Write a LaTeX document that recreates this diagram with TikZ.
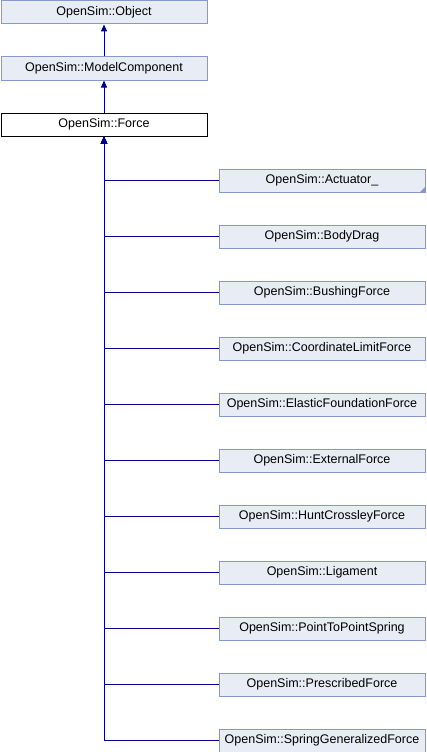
\documentclass[tikz,border=0pt]{standalone}
\usepackage{fontspec}
\setmainfont{Liberation Sans}
\usetikzlibrary{arrows.meta}
\definecolor{boxfill}{RGB}{232,236,245}
\definecolor{boxdraw}{RGB}{132,152,204}
\definecolor{edgecol}{RGB}{0,0,140}
\tikzset{
  cls/.style={draw=boxdraw, fill=boxfill, line width=1pt, minimum width=206pt, minimum height=23pt, inner sep=0pt, anchor=north west, font=\fontsize{12.5}{14}\selectfont},
  cur/.style={cls, draw=black, fill=white},
  inh/.style={draw=edgecol, line width=1pt, -{Triangle[length=7pt,width=6pt]}},
}
\begin{document}
\begin{tikzpicture}[x=1pt,y=-1pt]
\useasboundingbox (0,0) rectangle (426,752);
\node[cls] (obj) at (0.5,0.5) {OpenSim::Object};
\node[cls] (mc) at (0.5,56.5) {OpenSim::ModelComponent};
\node[cur] (force) at (0.5,112.5) {OpenSim::Force};
\draw[inh] (mc.north) -- (obj.south);
\draw[inh] (force.north) -- (mc.south);
\foreach \n/\t [count=\i from 0] in {act/OpenSim::Actuator\_, bd/OpenSim::BodyDrag, bf/OpenSim::BushingForce, clf/OpenSim::CoordinateLimitForce, eff/OpenSim::ElasticFoundationForce, ef/OpenSim::ExternalForce, hcf/OpenSim::HuntCrossleyForce, lig/OpenSim::Ligament, pps/OpenSim::PointToPointSpring, pf/OpenSim::PrescribedForce, sgf/OpenSim::SpringGeneralizedForce}{
  \node[cls] (\n) at (218.5,168.5+56*\i) {\t};
  \draw[inh] (\n.west) -| (force.south);
}
\fill[boxdraw] ([xshift=-6pt]act.south east) -- (act.south east) -- ([yshift=6pt]act.south east) -- cycle;
\end{tikzpicture}
\end{document}
